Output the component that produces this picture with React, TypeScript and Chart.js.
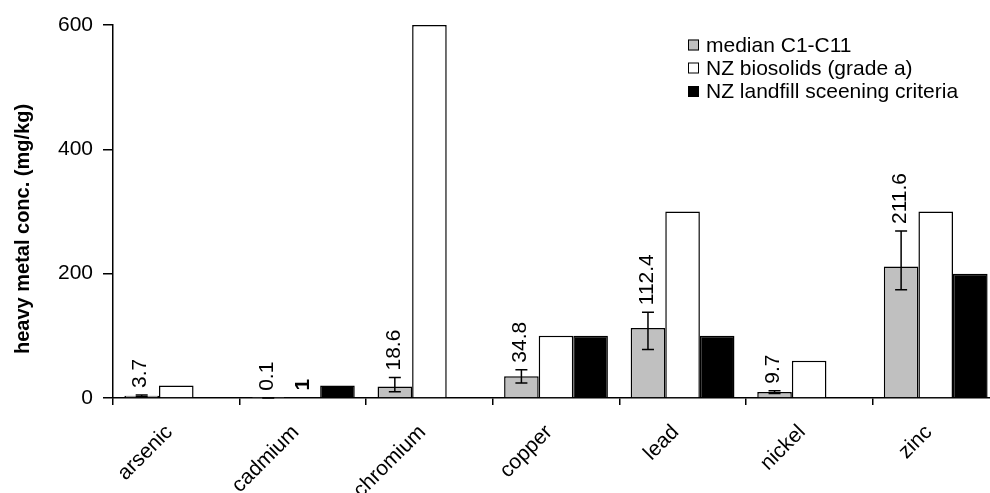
import React, { useEffect, useRef } from "react";
import { Chart, registerables } from "chart.js";

Chart.register(...registerables);

const categories = ["arsenic", "cadmium", "chromium", "copper", "lead", "nickel", "zinc"];
const median = [3.7, 0.1, 18.6, 34.8, 112.4, 9.7, 211.6];
const medianLow = [2, 0, 10, 24, 78, 7.2, 174];
const medianHigh = [5, 0.3, 33, 45.6, 138, 11.8, 268.7];
const medianLabels = ["3.7", "0.1", "18.6", "34.8", "112.4", "9.7", "211.6"];
const biosolids = [20, 1, 600, 100, 300, 60, 300];
const biosolidsLabels = [null, "1", null, null, null, null, null];
const landfill = [null, 20, null, 100, 100, null, 200];
const seriesNames = ["median C1-C11", "NZ biosolids (grade a)", "NZ landfill sceening criteria"];
const yTicks = [0, 200, 400, 600];
const yTitle = "heavy metal conc. (mg/kg)";

const FONT = "'Liberation Sans', Arial, sans-serif";
const COLORS = ["#c0c0c0", "#ffffff", "#000000"];

const overlayPlugin = {
  id: "overlay",
  afterDatasetsDraw(chart: any) {
    const ctx = chart.ctx;
    const y = chart.scales.y;
    const meta0 = chart.getDatasetMeta(0);
    const meta1 = chart.getDatasetMeta(1);
    ctx.save();
    // error bars
    ctx.strokeStyle = "#000";
    ctx.lineWidth = 1.5;
    meta0.data.forEach((bar: any, i: number) => {
      const x = bar.x;
      const yl = y.getPixelForValue(medianLow[i]);
      const yh = y.getPixelForValue(medianHigh[i]);
      ctx.beginPath();
      ctx.moveTo(x, yl);
      ctx.lineTo(x, yh);
      ctx.moveTo(x - 6, yl);
      ctx.lineTo(x + 6, yl);
      ctx.moveTo(x - 6, yh);
      ctx.lineTo(x + 6, yh);
      ctx.stroke();
    });
    // value labels
    ctx.fillStyle = "#000";
    ctx.textAlign = "left";
    ctx.textBaseline = "middle";
    meta0.data.forEach((bar: any, i: number) => {
      const top = Math.max(median[i], medianHigh[i]);
      const py = y.getPixelForValue(top) - 7;
      ctx.save();
      ctx.translate(bar.x - 1, py);
      ctx.rotate(-Math.PI / 2);
      ctx.font = `21px ${FONT}`;
      ctx.fillText(medianLabels[i], 0, 0);
      ctx.restore();
    });
    meta1.data.forEach((bar: any, i: number) => {
      const lbl = biosolidsLabels[i];
      if (!lbl) return;
      const py = y.getPixelForValue(biosolids[i]) - 7;
      ctx.save();
      ctx.translate(bar.x, py);
      ctx.rotate(-Math.PI / 2);
      ctx.font = `bold 21px ${FONT}`;
      ctx.fillText(lbl, 0, 0);
      ctx.restore();
    });
    ctx.restore();
  },
  afterDraw(chart: any) {
    const ctx = chart.ctx;
    ctx.save();
    // y axis title
    ctx.translate(23, 229);
    ctx.rotate(-Math.PI / 2);
    ctx.font = `bold 20px ${FONT}`;
    ctx.fillStyle = "#000";
    ctx.textAlign = "center";
    ctx.textBaseline = "middle";
    ctx.fillText(yTitle, 0, 0);
    ctx.restore();
    // legend
    ctx.save();
    const rows = [45, 68, 91.5];
    ctx.font = `21px ${FONT}`;
    ctx.textAlign = "left";
    ctx.textBaseline = "middle";
    seriesNames.forEach((name, i) => {
      const ry = rows[i];
      ctx.fillStyle = COLORS[i];
      ctx.fillRect(688, ry - 5.5, 11, 11);
      ctx.strokeStyle = "#000";
      ctx.lineWidth = 1;
      ctx.strokeRect(688.5, ry - 5, 10, 10);
      ctx.fillStyle = "#000";
      ctx.fillText(name, 706, ry + 1);
    });
    ctx.restore();
  },
};

export default function App() {
  const ref = useRef<HTMLCanvasElement | null>(null);
  useEffect(() => {
    if (!ref.current) return;
    const chart = new Chart(ref.current, {
      type: "bar",
      data: {
        labels: categories,
        datasets: [
          { label: seriesNames[0], data: median, backgroundColor: COLORS[0], borderColor: "#000", borderWidth: 1.5 },
          { label: seriesNames[1], data: biosolids, backgroundColor: COLORS[1], borderColor: "#000", borderWidth: 1.5 },
          { label: seriesNames[2], data: landfill as any, backgroundColor: COLORS[2], borderColor: "#000", borderWidth: 1.5 },
        ],
      },
      options: {
        responsive: false,
        animation: false,
        devicePixelRatio: 1,
        layout: { padding: { top: 25, right: 1, left: 0, bottom: 0 } },
        plugins: { legend: { display: false }, tooltip: { enabled: false } },
        datasets: { bar: { categoryPercentage: 0.82, barPercentage: 1 } },
        scales: {
          x: {
            offset: true,
            grid: { offset: true, drawOnChartArea: false, drawTicks: true, tickLength: 7, color: "#000", lineWidth: 1.5 },
            border: { display: true, color: "#000", width: 1.5 },
            ticks: {
              color: "#000",
              font: { size: 21, family: FONT },
              minRotation: 45,
              maxRotation: 45,
              padding: 15,
              labelOffset: -7,
              autoSkip: false,
            },
            afterFit: (s: any) => {
              s.height = 95;
            },
          },
          y: {
            min: 0,
            max: 600,
            afterBuildTicks: (s: any) => {
              s.ticks = yTicks.map((v) => ({ value: v }));
            },
            grid: { drawOnChartArea: false, drawTicks: true, tickLength: 10, color: "#000", lineWidth: 1.5 },
            border: { display: true, color: "#000", width: 1.5 },
            ticks: { color: "#000", font: { size: 21, family: FONT }, padding: 10 },
            afterFit: (s: any) => {
              s.width = 113;
            },
          },
        },
      },
      plugins: [overlayPlugin],
    });
    return () => chart.destroy();
  }, []);
  return (
    <div style={{ position: "fixed", left: 0, top: 0, width: 990, height: 493, overflow: "hidden", background: "#fff" }}>
      <canvas ref={ref} width={1000} height={493} style={{ width: 1000, height: 493, display: "block" }} />
    </div>
  );
}
